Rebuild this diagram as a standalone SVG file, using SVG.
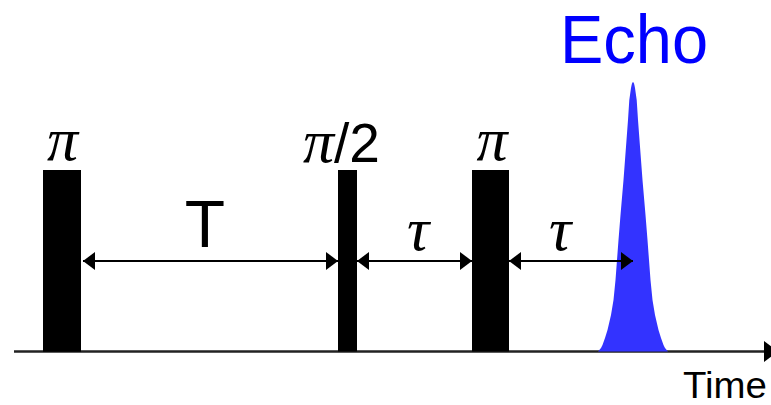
<svg xmlns="http://www.w3.org/2000/svg" width="771" height="405" viewBox="0 0 771 405">
<style>
.pulse{fill:#000}
.conn{stroke:#000;stroke-width:2;fill:none}
.sym{font-family:"Liberation Serif","DejaVu Serif",serif;font-style:italic;fill:#000}
.sans{font-family:"Liberation Sans",Arial,sans-serif;fill:#000}
</style>
<defs>
<marker id="ah" viewBox="0 0 12 18" refX="12" refY="9" markerWidth="12" markerHeight="18" markerUnits="userSpaceOnUse" orient="auto-start-reverse">
<path d="M0,0 L12,9 L0,18 Z" fill="#000"/>
</marker>
</defs>
<rect width="771" height="405" fill="#fff"/>
<g id="axis">
<line x1="14" y1="351.5" x2="766" y2="351.5" stroke="#222" stroke-width="2.5"/>
<path d="M764,341 L778,351.5 L764,362 Z" fill="#000"/>
<text class="sans" x="683" y="397.5" font-size="36" fill="#222" textLength="84" lengthAdjust="spacingAndGlyphs">Time</text>
</g>
<g id="echo">
<path d="M598,351.5 L601,348 L602.5,345 L605,338 L607.5,330 L611,315 L613.5,300 L615.5,280 L617,260 L618.5,240 L620.5,215 L623.5,180 L625,160 L626.5,140 L628,120 L629.3,100 L631,88 Q633,76 635,88 L636.7,100 L638,120 L639.5,140 L641,160 L642.5,180 L645.5,215 L647.5,240 L649,260 L650.5,280 L652.5,300 L655,315 L658.5,330 L661,338 L663.5,345 L665,348 L668,351.5 Z" fill="#3333ff"/>
<text x="560" y="63" font-family="'Liberation Sans',Arial,sans-serif" font-size="69" fill="#0000ff" textLength="148" lengthAdjust="spacingAndGlyphs">Echo</text>
</g>
<g id="pulse1">
<rect class="pulse" x="43" y="170" width="38" height="181.5"/>
<text class="sym" x="62.5" y="160" font-size="62" text-anchor="middle">π</text>
</g>
<g id="pulse2">
<rect class="pulse" x="338" y="170" width="19" height="181.5"/>
<text x="303" y="162" font-size="55"><tspan class="sym" font-size="62">π</tspan><tspan class="sans">/2</tspan></text>
</g>
<g id="pulse3">
<rect class="pulse" x="472" y="170" width="37" height="181.5"/>
<text class="sym" x="492" y="160" font-size="62" text-anchor="middle">π</text>
</g>
<g id="connectors">
<line class="conn" x1="83" y1="261" x2="338" y2="261" marker-start="url(#ah)" marker-end="url(#ah)"/>
<line class="conn" x1="357" y1="261" x2="472" y2="261" marker-start="url(#ah)" marker-end="url(#ah)"/>
<line class="conn" x1="509" y1="261" x2="633" y2="261" marker-start="url(#ah)" marker-end="url(#ah)"/>
<text class="sans" x="205" y="247" font-size="66" text-anchor="middle">T</text>
<text class="sym" x="418" y="250" font-size="62" text-anchor="middle">τ</text>
<text class="sym" x="560" y="250" font-size="62" text-anchor="middle">τ</text>
</g>
<rect x="43" y="170" width="38" height="181.5" fill="#000"/>
</svg>
